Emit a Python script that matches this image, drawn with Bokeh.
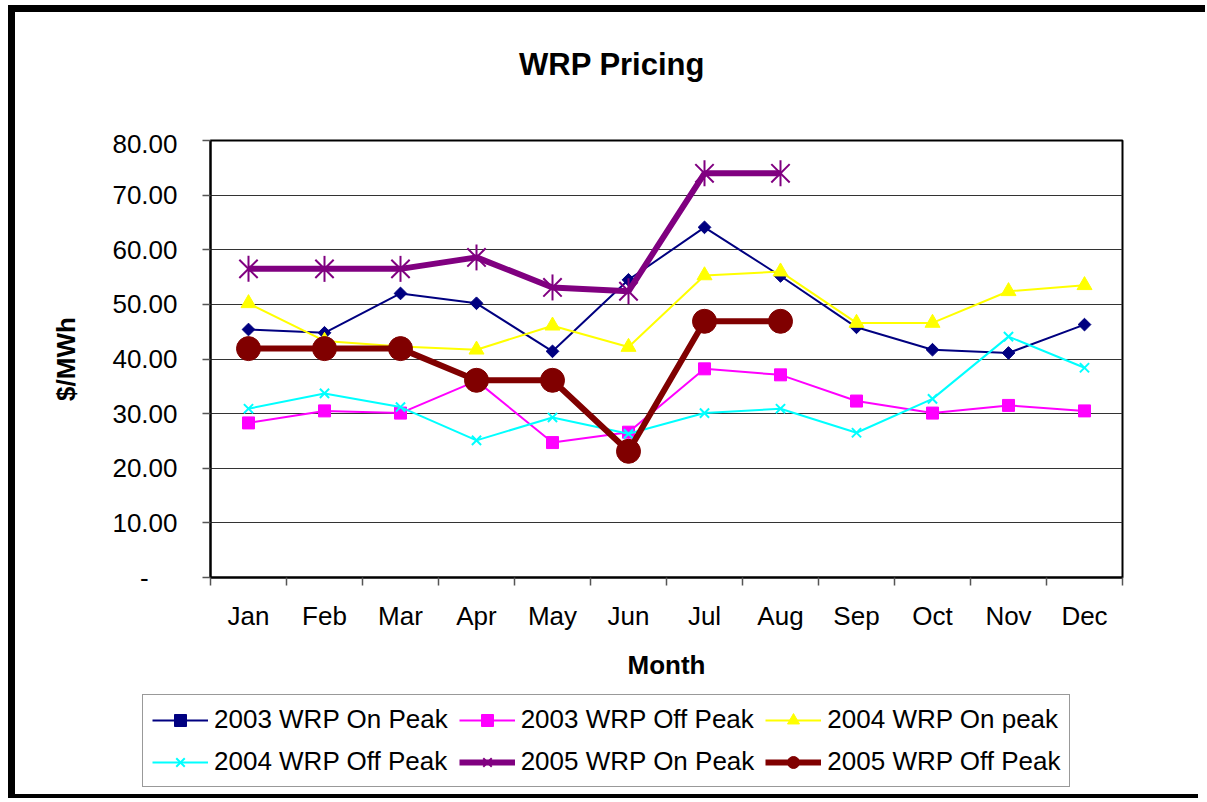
import math
from bokeh.plotting import figure
from bokeh.layouts import column
from bokeh.models import FixedTicker, Legend, LegendItem, Div
from bokeh.embed import file_html
from bokeh.resources import INLINE

# ---- data ----
title_text = "WRP Pricing"
months = ["Jan", "Feb", "Mar", "Apr", "May", "Jun", "Jul", "Aug", "Sep", "Oct", "Nov", "Dec"]
on_2003 = [45.4, 44.8, 52.0, 50.2, 41.4, 54.5, 64.1, 55.2, 45.8, 41.7, 41.1, 46.3]
off_2003 = [28.3, 30.5, 30.1, 36.0, 24.7, 26.6, 38.2, 37.1, 32.3, 30.1, 31.5, 30.5]
on_2004 = [50.2, 43.3, 42.3, 41.7, 46.1, 42.2, 55.3, 56.0, 46.6, 46.6, 52.4, 53.5]
off_2004 = [30.9, 33.7, 31.2, 25.1, 29.3, 26.3, 30.1, 30.9, 26.5, 32.7, 44.1, 38.4]
on_2005 = [56.5, 56.5, 56.5, 58.6, 53.1, 52.4, 74.0, 74.0]
off_2005 = [41.9, 41.9, 41.9, 36.1, 36.1, 23.1, 46.9, 46.9]
y_ticks = [0, 10, 20, 30, 40, 50, 60, 70, 80]
series_names = ["2003 WRP On Peak", "2003 WRP Off Peak", "2004 WRP On peak",
                "2004 WRP Off Peak", "2005 WRP On Peak", "2005 WRP Off Peak"]

FONT = "Liberation Sans"

xs = [i + 0.5 for i in range(len(months))]
xs8 = xs[:len(on_2005)]

# series styles: (color, line_width, marker, size, angle, filled)
styles = [
    ("#000080", 2, "square", 9, math.pi / 4, True),
    ("#FF00FF", 2, "square", 12, 0, True),
    ("#FFFF00", 2, "triangle", 15, 0, True),
    ("#00FFFF", 2, "x", 13, 0, False),
    ("#800080", 6, "x", 26, 0, False),
    ("#800000", 6, "circle", 24, 0, True),
]
series_x = [xs, xs, xs, xs, xs8, xs8]
series_y = [on_2003, off_2003, on_2004, off_2004, on_2005, off_2005]

# ---- title strip ----
title_div = Div(
    text=(f'<div style="margin:37px 0 0 504px;font-family:\'{FONT}\';font-size:31px;'
          f'font-weight:bold;line-height:1;color:black;white-space:nowrap;">{title_text}</div>'),
    width=1190, height=116, margin=0)

# ---- main chart ----
p = figure(frame_width=912, frame_height=437, x_range=(0, 12), y_range=(0, 80),
           output_backend="svg", toolbar_location=None,
           min_border_left=195, min_border_right=83,
           min_border_top=12, min_border_bottom=113)

p.background_fill_color = "white"
p.border_fill_color = "white"
p.outline_line_color = "black"
p.outline_line_width = 2

# x axis
xa = p.xaxis[0]
xa.ticker = FixedTicker(ticks=xs, minor_ticks=list(range(len(months) + 1)))
xa.major_label_overrides = {x: m for x, m in zip(xs, months)}
xa.major_tick_out = 0
xa.major_tick_in = 0
xa.minor_tick_out = 8
xa.minor_tick_in = 0
xa.minor_tick_line_color = "#555555"
xa.minor_tick_line_width = 1.5
xa.axis_line_color = "black"
xa.axis_line_width = 2
xa.major_label_text_font = FONT
xa.major_label_text_font_size = "26px"
xa.major_label_text_color = "black"
xa.major_label_standoff = 15
xa.axis_label = "Month"
xa.axis_label_text_font = FONT
xa.axis_label_text_font_size = "26px"
xa.axis_label_text_font_style = "bold"
xa.axis_label_text_color = "black"
xa.axis_label_standoff = 16

# y axis
ya = p.yaxis[0]
ya.ticker = FixedTicker(ticks=y_ticks, minor_ticks=[])
ya.major_label_overrides = {v: (f"{v:.2f}" if v != 0 else "-\u00a0\u00a0\u00a0\u00a0") for v in y_ticks}
ya.major_tick_out = 8
ya.major_tick_in = 0
ya.major_tick_line_color = "#555555"
ya.major_tick_line_width = 1.5
ya.axis_line_color = "black"
ya.axis_line_width = 2
ya.major_label_text_font = FONT
ya.major_label_text_font_size = "26px"
ya.major_label_text_color = "black"
ya.major_label_standoff = 25
ya.axis_label = "$/MWh"
ya.axis_label_text_font = FONT
ya.axis_label_text_font_size = "26px"
ya.axis_label_text_font_style = "bold"
ya.axis_label_text_color = "black"
ya.axis_label_standoff = 28

p.xgrid.visible = False
p.ygrid.ticker = FixedTicker(ticks=y_ticks)
p.ygrid.grid_line_color = "#333333"
p.ygrid.grid_line_width = 1


def draw_series(fig, x, y, st):
    color, lw, marker, size, angle, filled = st
    rs = [fig.line(x, y, line_color=color, line_width=lw)]
    kw = dict(marker=marker, size=size, angle=angle, line_color=color,
              fill_color=color if filled else None,
              line_width=2 if not filled else 1)
    rs.append(fig.scatter(x, y, **kw))
    if color == "#800080":  # Excel star marker: x plus vertical bar
        rs.append(fig.scatter(x, y, marker="dash", angle=math.pi / 2, size=size,
                              line_color=color, line_width=2))
    return rs


for x, y, st in zip(series_x, series_y, styles):
    draw_series(p, x, y, st)

top = column(title_div, p, spacing=0)
top.styles = {"margin-left": "8px", "margin-top": "5px",
              "border-left": "7px solid black", "border-top": "7px solid black",
              "background-color": "white"}

# ---- legend strip (same series drawn out of view; only the legend shows) ----
p2 = figure(width=1190, height=108, x_range=(0, 12), y_range=(-2, -1),
            output_backend="svg", toolbar_location=None, min_border=0)
p2.styles = {"margin-left": "8px", "border-left": "7px solid black",
             "border-bottom": "4px solid black"}
p2.axis.visible = False
p2.grid.visible = False
p2.outline_line_color = None
p2.background_fill_color = "white"
p2.border_fill_color = "white"

items = []
for name, x, y, st in zip(series_names, series_x, series_y, styles):
    rs = draw_series(p2, x, y, st)
    items.append(LegendItem(label=name, renderers=rs))

legend = Legend(items=items, location=(127, 11), orientation="horizontal", ncols=3,
                label_text_font=FONT, label_text_font_size="26px",
                label_text_color="black",
                glyph_width=56, glyph_height=30, label_height=30,
                label_standoff=6, spacing=11, padding=9, margin=0,
                border_line_color="#333333", border_line_width=1,
                background_fill_color="white", background_fill_alpha=1)
p2.add_layout(legend)

open("out.html", "w").write(file_html([top, p2], INLINE))
